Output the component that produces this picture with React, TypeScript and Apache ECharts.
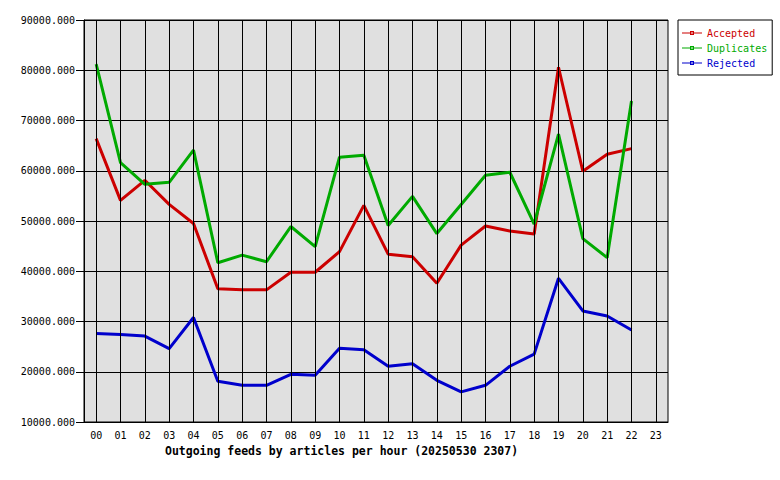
import { useEffect, useRef } from "react";
import * as echarts from "echarts";

const hours = [
  "00", "01", "02", "03", "04", "05", "06", "07", "08", "09", "10", "11",
  "12", "13", "14", "15", "16", "17", "18", "19", "20", "21", "22", "23",
];

const accepted = [
  66400, 54100, 58100, 53300, 49500, 36500, 36300, 36300, 39800, 39800, 43900, 53100,
  43400, 42900, 37600, 45200, 49000, 48000, 47400, 80600, 59900, 63300, 64400,
];

const duplicates = [
  81200, 61600, 57300, 57700, 64100, 41700, 43200, 41900, 48900, 44900, 62700, 63100,
  49100, 54900, 47500, 53300, 59100, 59700, 49400, 67300, 46500, 42700, 73900,
];

const rejected = [
  27600, 27400, 27100, 24600, 30800, 18100, 17300, 17300, 19500, 19300, 24700, 24400,
  21100, 21600, 18300, 16000, 17300, 21100, 23500, 38600, 32100, 31100, 28300,
];

const seriesNames = ["Accepted", "Duplicates", "Rejected"];
const seriesColors = ["#cc0000", "#00aa00", "#0000cc"];
const seriesData = [accepted, duplicates, rejected];

const titleText = "Outgoing feeds by articles per hour (20250530 2307)";

const mono = "DejaVu Sans Mono";

// legend icon: thin line with a small hollow square in the middle
const legendIcon =
  "path://M0,1.5H20V2.5H0Z M8,0H12V4H8Z M9,1V3H11V1Z";

const App = () => {
  const chartRef = useRef<HTMLDivElement>(null);

  useEffect(() => {
    if (!chartRef.current) return;
    document.body.style.margin = "0";
    const chart = echarts.init(chartRef.current, null, { renderer: "svg" });

    const options: echarts.EChartsOption = {
      animation: false,
      backgroundColor: "#ffffff",
      title: {
        text: titleText,
        left: 165,
        top: 445,
        padding: 0,
        textStyle: {
          fontFamily: mono,
          fontSize: 11.5,
          fontWeight: "bold",
          color: "#000",
        },
      },
      legend: {
        orient: "vertical",
        left: 678,
        top: 20,
        padding: [8, 5, 7, 4],
        backgroundColor: "#fff",
        borderColor: "#000",
        borderWidth: 1,
        borderRadius: 0,
        itemWidth: 20,
        itemHeight: 4,
        itemGap: 5,
        icon: legendIcon,
        textStyle: { fontFamily: mono, fontSize: 10 },
        data: seriesNames.map((n, i) => ({
          name: n,
          textStyle: { color: seriesColors[i] },
        })),
      },
      grid: {
        left: 84,
        top: 20,
        right: 112,
        bottom: 58,
        show: true,
        backgroundColor: "#e0e0e0",
        borderColor: "#000",
        borderWidth: 1,
      },
      xAxis: {
        type: "category",
        data: hours,
        boundaryGap: true,
        axisLine: { show: true, lineStyle: { color: "#000", width: 1 } },
        axisTick: { show: false },
        axisLabel: {
          interval: 0,
          margin: 8,
          fontFamily: mono,
          fontSize: 10,
          color: "#000",
        },
        splitLine: { show: false },
      },
      yAxis: {
        type: "value",
        min: 10000,
        max: 90000,
        interval: 10000,
        axisLine: { show: true, lineStyle: { color: "#000", width: 1 } },
        axisTick: { show: true, length: 8, lineStyle: { color: "#000", width: 1 } },
        axisLabel: {
          margin: 9,
          fontFamily: mono,
          fontSize: 10,
          color: "#000",
          formatter: (v: number) => v.toFixed(3),
        },
        splitLine: { show: true, lineStyle: { color: "#000", width: 1 } },
      },
      series: [
        {
          name: "hourLines",
          type: "line",
          data: [],
          z: 1,
          silent: true,
          markLine: {
            silent: true,
            symbol: ["none", "none"],
            label: { show: false },
            emphasis: { disabled: true },
            lineStyle: { color: "#000", width: 1, type: "solid" },
            data: hours.map((h) => ({ xAxis: h })),
          },
        },
        ...seriesNames.map((n, i) => ({
          name: n,
          type: "line" as const,
          data: seriesData[i],
          showSymbol: false,
          color: seriesColors[i],
          lineStyle: { color: seriesColors[i], width: 3 },
          emphasis: { disabled: true },
          z: 3,
        })),
      ],
    };

    chart.setOption(options);

    return () => {
      chart.dispose();
    };
  }, []);

  return <div ref={chartRef} style={{ width: 780, height: 480 }} />;
};

export default App;
